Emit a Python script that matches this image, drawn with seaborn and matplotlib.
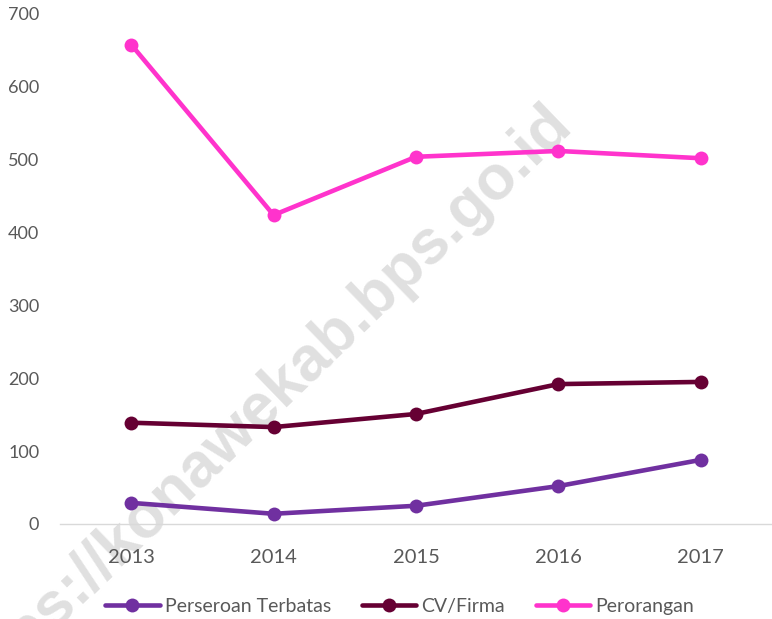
import numpy as np
import pandas as pd
import matplotlib
matplotlib.use('Agg')
import matplotlib.pyplot as plt
import seaborn as sns

# data
tahun = ['2013', '2014', '2015', '2016', '2017']
perseroan_terbatas = [29, 14, 25, 52, 88]
cv_firma = [139, 133, 151, 192, 195]
perorangan = [658, 424, 504, 512, 502]

series = ['Perseroan Terbatas', 'CV/Firma', 'Perorangan']
warna = ['#7030A0', '#660033', '#FF33CC']

df = pd.DataFrame({
    'Tahun': tahun * 3,
    'Jumlah': perseroan_terbatas + cv_firma + perorangan,
    'Jenis': [s for s in series for _ in tahun],
})

sns.set_style('white')
plt.rcParams['font.family'] = ['Lato', 'DejaVu Sans']

fig = plt.figure(figsize=(7.72, 6.19), dpi=100)
ax = fig.add_axes([0.0777, 0.1535, 0.9223, 0.8239])

# watermark (behind the axes)
fig.text(0.728, 0.815, 'https://konawekab.bps.go.id', fontsize=45, fontweight='bold',
         color='#e0e0e0', rotation=44, ha='right', va='center',
         rotation_mode='anchor', zorder=-1, family='Liberation Sans')

sns.lineplot(data=df, x='Tahun', y='Jumlah', hue='Jenis', palette=warna,
             marker='o', markersize=10, markeredgewidth=0, linewidth=3.3,
             ax=ax, legend=True)

ax.set_xlim(-0.5, 4.47)
ax.set_ylim(0, 700)
ax.set_yticks(np.arange(0, 701, 100))
ax.set_xlabel('')
ax.set_ylabel('')
ax.patch.set_alpha(0)

for s in ['top', 'right', 'left']:
    ax.spines[s].set_visible(False)
ax.spines['bottom'].set_color('#d9d9d9')
ax.spines['bottom'].set_linewidth(1)

ax.tick_params(axis='y', length=0, pad=15, labelsize=13, labelcolor='#595959')
ax.tick_params(axis='x', which='major', length=0, pad=18, labelsize=14.5, labelcolor='#595959')
ax.set_xticks(np.arange(-0.5, 5, 1), minor=True)
ax.tick_params(axis='x', which='minor', length=6, color='#d9d9d9', width=1)

ax.legend(loc='center', bbox_to_anchor=(0.477, -0.161), ncol=3, frameon=False,
          fontsize=14, handlelength=2.8, columnspacing=1.6, handletextpad=0.25,
          labelcolor='#595959')

fig.savefig('out.png', dpi=100)
